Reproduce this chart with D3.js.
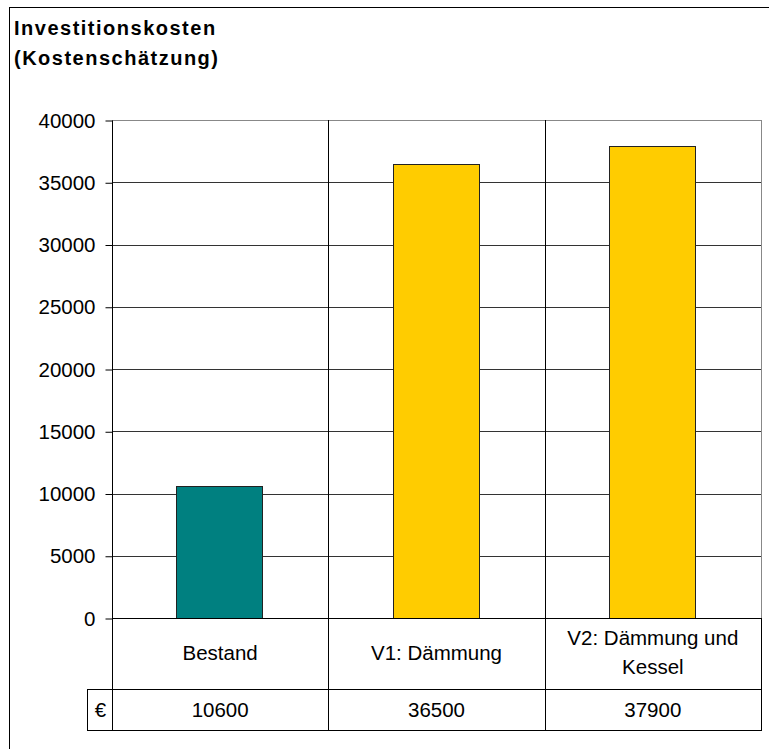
<!DOCTYPE html>
<html>
<head>
<meta charset="utf-8">
<script src="https://cdn.jsdelivr.net/npm/d3@7"></script>
<style>
  body { margin: 0; background: #fff; }
  svg { display: block; font-family: "Liberation Sans", Arial, sans-serif; }
</style>
</head>
<body>
<svg id="chart" width="769" height="749"></svg>
<script>
'use strict'

var categories = ['Bestand', 'V1: Dämmung', 'V2: Dämmung und Kessel'];
var catLines = [['Bestand'], ['V1: Dämmung'], ['V2: Dämmung und', 'Kessel']];
var values = [10600, 36500, 37900];
var colors = ['#008080', '#FFCC00', '#FFCC00'];
var yTicks = [0, 5000, 10000, 15000, 20000, 25000, 30000, 35000, 40000];
var unit = '€';

var svg = d3.select('#chart');
var fs = 20.5;

// outer frame (runs past the right and bottom edge of the picture)
svg.append('rect')
	.attr('x', 9.5).attr('y', 7.5)
	.attr('width', 800).attr('height', 800)
	.attr('fill', 'none').attr('stroke', '#000').attr('stroke-width', 1);

svg.append('text').attr('x', 14).attr('y', 35)
	.attr('font-size', 20).attr('font-weight', 'bold').attr('letter-spacing', 1.5)
	.text('Investitionskosten');
svg.append('text').attr('x', 14).attr('y', 65)
	.attr('font-size', 20).attr('font-weight', 'bold').attr('letter-spacing', 1.5)
	.text('(Kostenschätzung)');

var pLeft = 112, pRight = 761, pTop = 120, pBottom = 618;

var x = d3.scaleBand().domain(categories).range([pLeft, pRight]).paddingInner(0).paddingOuter(0);
var y = d3.scaleLinear().domain([0, 40000]).range([pBottom, pTop]);

// horizontal grid
svg.append('g').selectAll('line').data(yTicks.slice(1)).join('line')
	.attr('x1', pLeft).attr('x2', pRight)
	.attr('y1', function(d){ return Math.round(y(d)) + 0.5; })
	.attr('y2', function(d){ return Math.round(y(d)) + 0.5; })
	.attr('stroke', function(d){ return d === 40000 ? '#888' : '#333'; });

// vertical grid at category boundaries
svg.append('g').selectAll('line').data(categories.slice(1)).join('line')
	.attr('x1', function(d){ return Math.round(x(d)) + 0.5; })
	.attr('x2', function(d){ return Math.round(x(d)) + 0.5; })
	.attr('y1', pTop).attr('y2', pBottom)
	.attr('stroke', '#000');

// right plot border
svg.append('line')
	.attr('x1', pRight + 0.5).attr('x2', pRight + 0.5)
	.attr('y1', pTop).attr('y2', pBottom)
	.attr('stroke', '#888');

// bars
var barW = 86;
svg.append('g').selectAll('rect').data(values).join('rect')
	.attr('x', function(d, i){ return Math.round(x(categories[i]) + (x.bandwidth() - barW) / 2) - 0.5; })
	.attr('y', function(d){ return Math.round(y(d)) + 0.5; })
	.attr('width', barW)
	.attr('height', function(d){ return Math.round(pBottom - y(d)); })
	.attr('fill', function(d, i){ return colors[i]; })
	.attr('stroke', '#222');

// y axis
var yAxis = d3.axisLeft(y).tickValues(yTicks).tickSize(7).tickPadding(10).tickFormat(d3.format('d'));
var ga = svg.append('g').attr('transform', 'translate(' + (pLeft + 0.5) + ',0.5)').call(yAxis);
ga.select('.domain').attr('stroke', '#000').attr('d', 'M0,' + pTop + 'V' + pBottom);
ga.selectAll('.tick line').attr('stroke', '#000');
ga.selectAll('.tick text').attr('font-size', fs).attr('fill', '#000')
	.attr('font-family', '"Liberation Sans", Arial, sans-serif');

// data table
var rowMid = 689, rowBot = 730, unitLeft = 87;
var tbl = svg.append('g').attr('stroke', '#000').attr('fill', 'none');
tbl.append('line').attr('x1', pLeft).attr('x2', pRight).attr('y1', pBottom + 0.5).attr('y2', pBottom + 0.5);
tbl.append('line').attr('x1', unitLeft).attr('x2', pRight + 1).attr('y1', rowMid + 0.5).attr('y2', rowMid + 0.5);
tbl.append('line').attr('x1', unitLeft).attr('x2', pRight + 1).attr('y1', rowBot + 0.5).attr('y2', rowBot + 0.5);
tbl.append('line').attr('x1', unitLeft + 0.5).attr('x2', unitLeft + 0.5).attr('y1', rowMid).attr('y2', rowBot);
tbl.append('line').attr('x1', pLeft + 0.5).attr('x2', pLeft + 0.5).attr('y1', pBottom).attr('y2', rowBot + 1);
tbl.selectAll('.sep').data(categories.slice(1)).join('line')
	.attr('x1', function(d){ return Math.round(x(d)) + 0.5; })
	.attr('x2', function(d){ return Math.round(x(d)) + 0.5; })
	.attr('y1', pBottom).attr('y2', rowBot + 1);
tbl.append('line').attr('x1', pRight + 0.5).attr('x2', pRight + 0.5).attr('y1', pBottom).attr('y2', rowBot + 1);

// category labels
svg.append('g').selectAll('text').data(catLines).join('text')
	.attr('x', function(d, i){ return x(categories[i]) + x.bandwidth() / 2; })
	.attr('text-anchor', 'middle').attr('font-size', fs)
	.each(function(d){
		var t = d3.select(this);
		var y0 = d.length === 1 ? 660 : 645;
		d.forEach(function(s, j){
			t.append('tspan').attr('x', t.attr('x')).attr('y', y0 + j * 29).text(s);
		});
	});

// values row
svg.append('g').selectAll('text').data(values).join('text')
	.attr('x', function(d, i){ return x(categories[i]) + x.bandwidth() / 2; })
	.attr('y', 717).attr('text-anchor', 'middle').attr('font-size', fs)
	.text(function(d){ return d; });
svg.append('text').attr('x', (unitLeft + pLeft) / 2 + 1).attr('y', 717)
	.attr('text-anchor', 'middle').attr('font-size', fs).text(unit);
</script>
</body>
</html>
